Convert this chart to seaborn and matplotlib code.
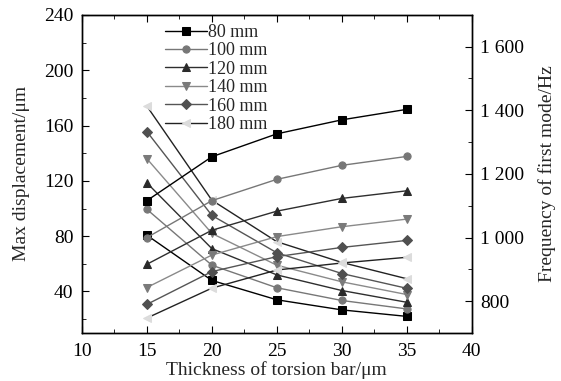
import matplotlib
matplotlib.use("Agg")
import matplotlib.pyplot as plt
import seaborn as sns
import pandas as pd
from matplotlib.ticker import MultipleLocator, FixedLocator, FuncFormatter

thickness = [15, 20, 25, 30, 35]
lengths = ["80 mm", "100 mm", "120 mm", "140 mm", "160 mm", "180 mm"]

disp_80 = [80.7, 48, 34, 26.7, 22]
disp_100 = [99.4, 59, 42.7, 33.5, 27.4]
disp_120 = [118.5, 71, 52, 40.7, 32.2]
disp_140 = [136, 82, 59, 47, 37.8]
disp_160 = [155.6, 95, 68, 53, 42.3]
disp_180 = [174, 106, 76, 61, 49.2]

freq_80 = [1116, 1254, 1326, 1370, 1403]
freq_100 = [1000, 1116, 1183, 1227, 1255]
freq_120 = [916, 1023, 1083, 1123, 1147]
freq_140 = [843, 945, 1003, 1034, 1058]
freq_160 = [790, 893, 940, 969, 991]
freq_180 = [747, 841, 898, 920, 938]

disp = [disp_80, disp_100, disp_120, disp_140, disp_160, disp_180]
freq = [freq_80, freq_100, freq_120, freq_140, freq_160, freq_180]

markers = ["s", "o", "^", "v", "D", "<"]
line_colors = ["#000000", "#777777", "#2e2e2e", "#8a8a8a", "#555555", "#222222"]
marker_colors = ["#000000", "#777777", "#2a2a2a", "#7a7a7a", "#505050", "#dcdcdc"]

sns.set_style("ticks")
plt.rcParams["font.family"] = ["Liberation Serif", "DejaVu Serif"]

fig = plt.figure(figsize=(5.61, 3.81), dpi=100)
ax = fig.add_axes([0.146, 0.126, 0.695, 0.835])
ax2 = ax.twinx()

for i, lab in enumerate(lengths):
    ms = 5.2 if markers[i] != "D" else 4.8
    df = pd.DataFrame({"t": thickness, "v": disp[i]})
    sns.lineplot(data=df, x="t", y="v", ax=ax, color=line_colors[i], marker=markers[i],
                 markersize=ms, markerfacecolor=marker_colors[i],
                 markeredgecolor=marker_colors[i], linewidth=1.0, label=lab)
    df2 = pd.DataFrame({"t": thickness, "v": freq[i]})
    sns.lineplot(data=df2, x="t", y="v", ax=ax2, color=line_colors[i], marker=markers[i],
                 markersize=ms, markerfacecolor=marker_colors[i],
                 markeredgecolor=marker_colors[i], linewidth=1.0, legend=False)

ax.set_xlim(10, 40)
ax.set_ylim(10, 240)
ax2.set_ylim(700, 1700)

ax.xaxis.set_major_locator(MultipleLocator(5))
ax.xaxis.set_minor_locator(MultipleLocator(2.5))
ax.yaxis.set_major_locator(FixedLocator([40, 80, 120, 160, 200, 240]))
ax.yaxis.set_minor_locator(FixedLocator([20, 60, 100, 140, 180, 220]))
ax2.yaxis.set_major_locator(FixedLocator([800, 1000, 1200, 1400, 1600]))
ax2.yaxis.set_minor_locator(FixedLocator([700, 900, 1100, 1300, 1500, 1700]))

def fmt(v, pos):
    v = int(round(v))
    if v >= 1000:
        return "%d %03d" % (v // 1000, v % 1000)
    return str(v)

ax2.yaxis.set_major_formatter(FuncFormatter(fmt))

for a in (ax, ax2):
    for s in a.spines.values():
        s.set_visible(True)
        s.set_linewidth(1.0)
        s.set_color("black")

ax.tick_params(axis="both", which="both", direction="in", top=True, right=False,
               labelsize=14, colors="black")
ax.tick_params(axis="x", which="major", pad=7)
ax.tick_params(axis="y", which="major", pad=6)
ax.tick_params(which="major", length=5)
ax.tick_params(which="minor", length=3)
ax2.tick_params(axis="y", which="both", direction="in", labelsize=14, colors="black", pad=6)
ax2.tick_params(which="major", length=5)
ax2.tick_params(which="minor", length=3)

ax.set_xlabel("Thickness of torsion bar/μm", fontsize=14, labelpad=1)
ax.set_ylabel("Max displacement/μm", fontsize=14, labelpad=10)
ax2.set_ylabel("Frequency of first mode/Hz", fontsize=14, labelpad=10)

leg = ax.legend(loc="upper left", bbox_to_anchor=(0.19, 1.0), frameon=False, fontsize=13,
                handlelength=2.3, handletextpad=0.1, labelspacing=0.08, borderaxespad=0.1)

fig.savefig("out.png", dpi=100)
